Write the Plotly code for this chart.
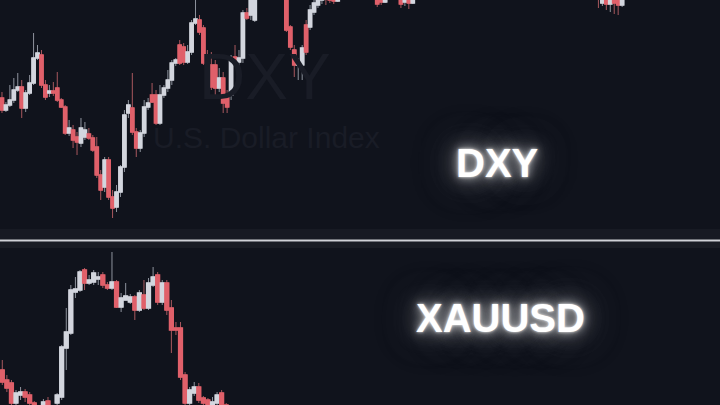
import plotly.graph_objects as go

# ---------------- DATA ----------------
# DXY (top panel) - candles, prices
dxy_open = [104.42,104.30,104.35,104.40,104.50,104.53,104.32,104.47,104.57,104.82,
            104.85,104.55,104.47,104.49,104.52,104.40,104.33,104.07,104.10,104.03,
            103.97,104.03,104.06,104.02,103.93,103.65,103.53,103.80,103.43,103.33,
            103.48,103.73,104.27,104.32,104.08,103.92,104.07,104.33,104.45,104.45,
            104.17,104.45,104.52,104.60,104.77,104.95,104.93,104.78,104.88,105.17,
            105.20,105.12,104.77,104.75,104.75,104.52,104.62,104.45,104.45,104.83,
            104.78,104.82,105.27,105.25,105.20,105.50,105.65,105.80,105.68,105.90,
            105.75,105.62,105.42,105.13,104.90,104.75,104.75,105.15,105.13,105.28,
            105.35,105.40,105.50,105.45,105.45,105.39,105.55,105.65,105.72,105.85,
            105.76,105.66,105.80,105.62,105.55,105.50,105.44,105.38,105.56,105.68,
            105.55,105.48,105.38,105.50,105.37,105.58,105.70,105.84,105.92,105.86,
            106.04,106.15,106.05,105.96,106.12,106.26,106.16,106.02,105.90,106.00,
            106.10,105.96,105.84,105.92,106.06,105.95,105.88,105.78,105.86,106.00,
            105.90,105.80,105.74,105.86,105.74,105.68,105.82,105.92,105.84,105.74,
            105.80,105.68,105.72,105.78,105.66,105.60,105.70,105.64,105.56,105.62,
            105.54,105.48,105.37,105.44,105.36,105.45,105.40,105.35,105.56,105.68,
            105.75]
dxy_high = [104.48,104.38,104.55,104.62,104.67,104.60,104.50,104.65,105.07,104.95,
            104.90,104.60,104.55,104.58,104.68,104.42,104.35,104.20,104.15,104.08,
            104.22,104.18,104.12,104.05,104.03,103.70,103.83,103.83,103.50,103.55,
            103.75,104.30,104.40,104.67,104.12,104.10,104.40,104.42,104.57,104.50,
            104.55,104.55,104.70,104.80,104.82,105.00,104.97,104.95,105.20,105.45,
            105.25,105.15,104.90,104.88,104.80,104.72,104.68,104.50,104.85,104.95,
            104.90,105.30,105.32,105.55,105.60,105.70,105.85,105.90,105.95,106.00,
            105.80,105.66,105.45,105.15,104.95,104.82,104.95,105.20,105.35,105.45,
            105.55,105.55,105.58,105.52,105.50,105.60,105.70,105.80,105.90,105.95,
            105.82,105.88,105.86,105.70,105.62,105.55,105.52,105.60,105.72,105.75,
            105.62,105.52,105.56,105.54,105.62,105.75,105.88,105.98,106.05,106.10,
            106.20,106.22,106.12,106.18,106.30,106.35,106.20,106.08,106.06,106.14,
            106.16,106.00,105.98,106.10,106.12,106.02,105.94,105.90,106.04,106.06,
            105.96,105.88,105.90,105.92,105.80,105.86,105.96,106.00,105.88,105.84,
            105.86,105.76,105.82,105.84,105.72,105.74,105.78,105.70,105.66,105.68,
            105.60,105.55,105.50,105.48,105.50,105.50,105.46,105.62,105.72,105.80,
            105.88]
dxy_low = [104.27,104.28,104.33,104.37,104.48,104.22,104.28,104.45,104.55,104.80,
           104.52,104.40,104.43,104.44,104.38,104.32,104.05,104.04,103.92,103.85,
           103.93,104.00,104.00,103.88,103.62,103.40,103.48,103.40,103.22,103.28,
           103.43,103.68,104.22,104.05,103.83,103.88,104.03,104.30,104.37,104.15,
           104.15,104.42,104.48,104.55,104.74,104.75,104.75,104.76,104.85,105.15,
           105.05,104.75,104.72,104.50,104.45,104.48,104.27,104.27,104.40,104.75,
           104.74,104.77,105.20,105.20,105.18,105.42,105.60,105.62,105.65,105.70,
           105.58,105.40,105.08,104.90,104.63,104.60,104.60,104.85,105.10,105.25,
           105.32,105.36,105.35,105.37,105.36,105.38,105.48,105.60,105.66,105.70,
           105.60,105.62,105.58,105.48,105.43,105.33,105.35,105.37,105.52,105.50,
           105.42,105.32,105.34,105.31,105.36,105.55,105.66,105.78,105.80,105.84,
           106.00,105.98,105.90,105.94,106.08,106.10,105.98,105.85,105.86,105.95,
           105.92,105.80,105.78,105.90,105.90,105.82,105.74,105.72,105.84,105.86,
           105.76,105.68,105.72,105.70,105.62,105.66,105.78,105.80,105.70,105.68,
           105.64,105.58,105.66,105.62,105.56,105.57,105.60,105.52,105.50,105.50,
           105.44,105.32,105.34,105.30,105.28,105.26,105.25,105.33,105.52,105.60,
           105.70]
dxy_close = [104.30,104.35,104.40,104.50,104.53,104.32,104.47,104.57,104.82,104.87,
             104.55,104.43,104.49,104.47,104.40,104.33,104.07,104.12,104.00,103.98,
             104.12,104.10,104.02,103.90,103.65,103.50,103.80,103.43,103.32,103.48,
             103.73,104.25,104.35,104.08,103.92,104.07,104.33,104.37,104.38,104.17,
             104.45,104.52,104.60,104.77,104.80,104.77,104.78,104.88,105.17,105.21,
             105.08,104.77,104.73,104.53,104.52,104.62,104.37,104.33,104.80,104.78,
             104.82,105.27,105.22,105.45,105.50,105.65,105.80,105.68,105.90,105.75,
             105.62,105.43,105.10,104.93,104.75,104.78,104.92,104.88,105.30,105.37,
             105.45,105.50,105.42,105.40,105.39,105.55,105.65,105.72,105.85,105.76,
             105.66,105.80,105.62,105.55,105.50,105.36,105.38,105.56,105.68,105.55,
             105.48,105.36,105.52,105.37,105.58,105.70,105.84,105.92,105.86,106.04,
             106.15,106.05,105.96,106.12,106.26,106.16,106.02,105.90,106.00,106.10,
             105.96,105.84,105.92,106.06,105.95,105.88,105.78,105.86,106.00,105.90,
             105.80,105.74,105.86,105.74,105.68,105.82,105.92,105.84,105.74,105.80,
             105.68,105.72,105.78,105.66,105.60,105.70,105.64,105.56,105.62,105.54,
             105.48,105.42,105.44,105.36,105.45,105.37,105.35,105.56,105.68,105.75,
             105.82]

# XAUUSD (bottom panel)
xau_open = [1986.5,1981.5,1980.0,1970.0,1974.0,1975.5,1974.0,1970.0,1964.0,1968.5,
            1971.0,1968.0,1970.0,1973.0,1997.5,2005.0,2025.5,2026.5,2036.5,2030.0,
            2030.5,2032.0,2034.0,2029.0,2027.5,2030.5,2018.0,2021.5,2020.5,2023.0,
            2016.5,2024.0,2017.5,2029.0,2034.0,2020.5,2030.0,2017.5,2007.5,2007.5,
            1984.0,1970.0,1975.0,1978.0,1972.5,1971.5,1969.0,1970.0,1975.0,1969.0,
            1960.0,1962.0,1952.0,1954.0,1944.0,1948.0,1938.0,1940.0,1930.0,1932.0,
            1924.0]
xau_high = [1991.5,1984.0,1981.5,1976.5,1978.0,1977.0,1975.5,1971.0,1968.0,1972.0,
            1973.0,1969.0,1975.0,1999.0,2017.5,2029.0,2033.0,2036.5,2037.5,2034.0,
            2036.5,2035.5,2035.5,2030.5,2045.5,2031.5,2025.0,2030.0,2024.5,2024.0,
            2026.5,2031.5,2032.5,2038.0,2035.5,2031.5,2031.5,2021.5,2010.5,2010.5,
            1985.5,1978.0,1980.5,1980.0,1973.5,1972.5,1973.0,1975.5,1976.5,1970.0,
            1964.0,1963.0,1956.0,1955.0,1950.0,1949.0,1942.0,1941.0,1934.0,1933.0,
            1928.0]
xau_low = [1979.0,1975.5,1966.5,1966.5,1971.5,1970.5,1966.5,1962.0,1960.0,1964.0,
           1965.0,1962.0,1966.0,1971.5,1986.5,2004.0,2022.5,2025.5,2026.5,2029.0,
           2029.0,2029.0,2027.5,2026.5,2026.5,2017.5,2015.5,2021.5,2019.5,2011.5,
           2015.5,2016.5,2016.5,2028.0,2019.0,2019.0,2014.0,1995.0,2004.0,1981.5,
           1967.5,1968.5,1973.5,1970.0,1966.5,1966.5,1966.5,1969.0,1966.5,1958.0,
           1955.0,1950.0,1946.0,1942.0,1940.0,1936.0,1932.0,1928.0,1925.0,1922.0,
           1918.0]
xau_close = [1980.5,1977.5,1970.0,1975.0,1975.5,1973.0,1970.0,1964.0,1966.0,1970.5,
             1968.0,1965.0,1974.0,1998.0,2005.5,2026.5,2027.0,2035.5,2030.0,2031.5,
             2035.0,2033.0,2029.0,2027.5,2030.5,2018.0,2022.5,2023.5,2023.0,2016.5,
             2025.0,2017.5,2030.0,2033.0,2020.5,2030.0,2016.5,2006.5,2006.5,1983.0,
             1970.0,1976.5,1978.0,1971.5,1970.0,1968.5,1970.5,1974.0,1969.0,1960.0,
             1962.0,1952.0,1954.0,1944.0,1948.0,1938.0,1940.0,1930.0,1932.0,1924.0,
             1926.0]

top_title = "DXY"
top_subtitle = "U.S. Dollar Index"
top_label = "DXY"
bottom_label = "XAUUSD"

# ---------------- STYLE ----------------
W, H = 720, 405
BG = "#10131c"
UP_BODY, UP_WICK = "#d3d6de", "#8e939d"
DN_BODY, DN_WICK = "#e0606a", "#a8585e"
SEP_Y = 240.5          # separator pixel row
TOP_BOTTOM_PX = 238    # bottom of top pane
BOT_TOP_PX = 243       # top of bottom pane

fig = go.Figure()


def add_candles(o, h, l, c, xa, ya):
    x = list(range(len(o)))
    # full candles: wicks
    fig.add_trace(go.Candlestick(
        x=x, open=o, high=h, low=l, close=c, xaxis=xa, yaxis=ya,
        increasing=dict(line=dict(color=UP_WICK, width=1), fillcolor=UP_BODY),
        decreasing=dict(line=dict(color=DN_WICK, width=1), fillcolor=DN_BODY),
        whiskerwidth=0, hoverinfo="skip", showlegend=False))
    # bodies drawn on top with body colour outline
    bh = [max(a, b) for a, b in zip(o, c)]
    bl = [min(a, b) for a, b in zip(o, c)]
    fig.add_trace(go.Candlestick(
        x=x, open=o, high=bh, low=bl, close=c, xaxis=xa, yaxis=ya,
        increasing=dict(line=dict(color=UP_BODY, width=1.6), fillcolor=UP_BODY),
        decreasing=dict(line=dict(color=DN_BODY, width=1.6), fillcolor=DN_BODY),
        whiskerwidth=0, hoverinfo="skip", showlegend=False))


add_candles(dxy_open, dxy_high, dxy_low, dxy_close, "x", "y")
add_candles(xau_open, xau_high, xau_low, xau_close, "x2", "y2")

top_dom = [1 - TOP_BOTTOM_PX / H, 1]
bot_dom = [0, 1 - BOT_TOP_PX / H]

TOP_SPACING = 3.95
BOT_SPACING = 4.57

axis_common = dict(visible=False, showgrid=False, zeroline=False, fixedrange=True)
fig.update_layout(
    width=W, height=H,
    margin=dict(l=0, r=0, t=0, b=0),
    paper_bgcolor=BG, plot_bgcolor=BG,
    boxgap=0.2, boxgroupgap=0,
    xaxis=dict(domain=[0, 1], range=[-0.5, W / TOP_SPACING - 0.5], anchor="y",
               rangeslider=dict(visible=False), **axis_common),
    yaxis=dict(domain=top_dom, range=[105.40 - TOP_BOTTOM_PX / 100, 105.40], anchor="x",
               **axis_common),
    xaxis2=dict(domain=[0, 1], range=[-0.5, W / BOT_SPACING - 0.5], anchor="y2",
                rangeslider=dict(visible=False), **axis_common),
    yaxis2=dict(domain=bot_dom, range=[2050 - (H - BOT_TOP_PX) * 0.5, 2050], anchor="x2",
                **axis_common),
    showlegend=False,
)


def py(p):
    return 1 - p / H


# separator and soft bands
fig.add_shape(type="rect", xref="paper", yref="paper", x0=0, x1=1,
              y0=py(239.5), y1=py(229), fillcolor="rgba(255,255,255,0.03)",
              line=dict(width=0), layer="below")
fig.add_shape(type="rect", xref="paper", yref="paper", x0=0, x1=1,
              y0=py(248), y1=py(241.5), fillcolor="rgba(255,255,255,0.04)",
              line=dict(width=0), layer="below")
fig.add_shape(type="line", xref="paper", yref="paper", x0=0, x1=1,
              y0=py(SEP_Y), y1=py(SEP_Y), line=dict(color="#cfd1d6", width=2))

# watermark
fig.add_annotation(text=top_title, xref="paper", yref="paper", x=265 / W, y=py(77),
                   showarrow=False, xanchor="center", yanchor="middle",
                   font=dict(family="Liberation Sans, Arial", size=64, color="#191c26"))
fig.add_annotation(text=top_subtitle, xref="paper", yref="paper", x=266 / W, y=py(137),
                   showarrow=False, xanchor="center", yanchor="middle",
                   font=dict(family="Liberation Sans, Arial", size=30, color="#191c26"))

glow = ("0 0 3px rgba(255,255,255,0.9), 0 0 10px rgba(255,255,255,0.7), "
        "0 0 20px rgba(210,210,210,0.6), 0 0 34px rgba(170,170,170,0.55), "
        "0 0 50px rgba(140,140,140,0.45)")
fig.add_annotation(text="<b>%s</b>" % top_label, xref="paper", yref="paper",
                   x=497 / W, y=py(163), showarrow=False, xanchor="center", yanchor="middle",
                   font=dict(family="Liberation Sans, Arial", size=40, color="#ffffff",
                             shadow=glow))
fig.add_annotation(text="<b>%s</b>" % bottom_label, xref="paper", yref="paper",
                   x=500 / W, y=py(318), showarrow=False, xanchor="center", yanchor="middle",
                   font=dict(family="Liberation Sans, Arial", size=40, color="#ffffff",
                             shadow=glow))

fig.write_html(
    "out.html",
    config=dict(displayModeBar=False, staticPlot=True),
    post_script="document.body.style.margin='0';document.body.style.background='%s';" % BG,
)
